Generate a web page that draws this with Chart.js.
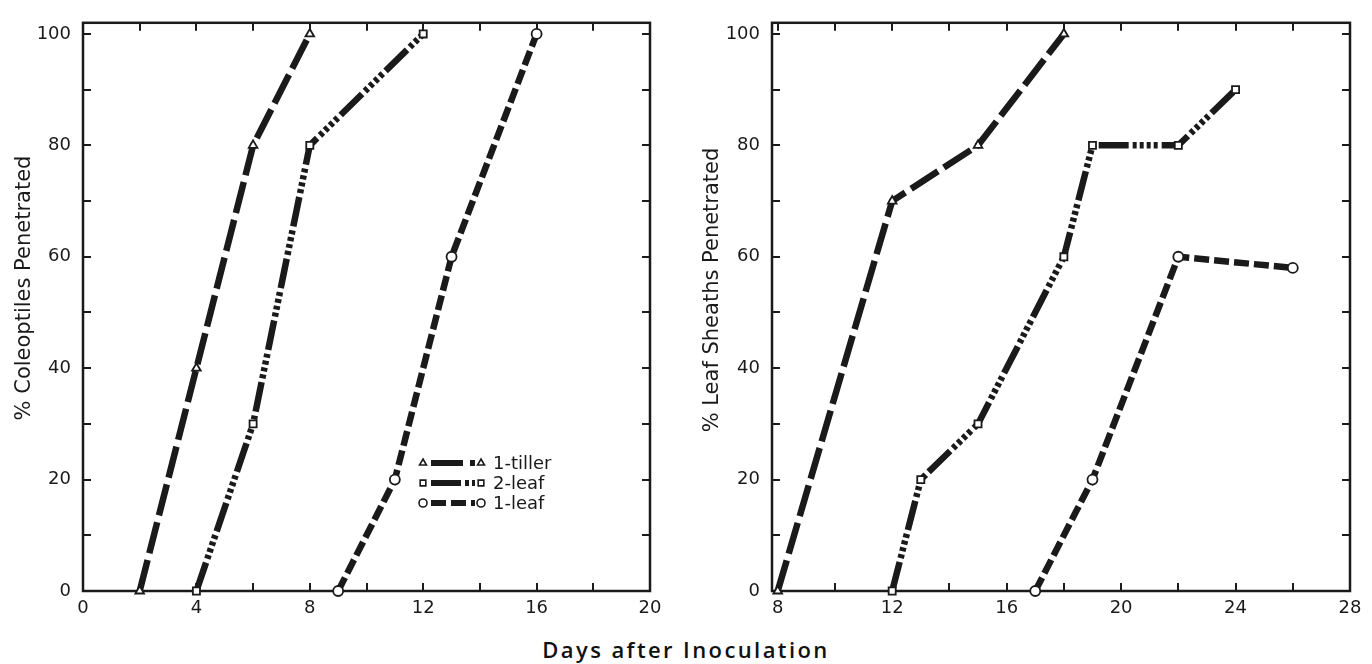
<!DOCTYPE html>
<html>
<head>
<meta charset="utf-8">
<script src="https://cdn.jsdelivr.net/npm/chart.js@4.4.1/dist/chart.umd.min.js"></script>
<style>
html,body{margin:0;padding:0;background:#fff;}
body{width:1372px;height:664px;position:relative;overflow:hidden;}
#c1{position:absolute;left:0;top:0;}
#c2{position:absolute;left:690px;top:0;}
#xt{position:absolute;left:0;width:1372px;top:634px;text-align:center;font-family:"Open Sans","DejaVu Sans",sans-serif;font-weight:600;font-size:22px;color:#111;letter-spacing:2.4px;}
</style>
</head>
<body>
<canvas id="c1" width="690" height="630"></canvas>
<canvas id="c2" width="682" height="630"></canvas>
<div id="xt">Days after Inoculation</div>
<script>
// ---------- data ----------
const seriesNames = ["1-tiller", "2-leaf", "1-leaf"];

// Left panel: % coleoptiles penetrated
const colTillerX = [2, 4, 6, 8];
const colTillerY = [0, 40, 80, 100];
const col2LeafX = [4, 6, 8, 12];
const col2LeafY = [0, 30, 80, 100];
const col1LeafX = [9, 11, 13, 16];
const col1LeafY = [0, 20, 60, 100];

// Right panel: % leaf sheaths penetrated
const shTillerX = [8, 12, 15, 18];
const shTillerY = [0, 70, 80, 100];
const sh2LeafX = [12, 13, 15, 18, 19, 22, 24];
const sh2LeafY = [0, 20, 30, 60, 80, 80, 90];
const sh1LeafX = [17, 19, 22, 26];
const sh1LeafY = [0, 20, 60, 58];

// tick marks / labels
const leftXTicks = [0, 2, 4, 6, 8, 10, 12, 14, 16, 18, 20];
const rightXTicks = [8, 10, 12, 14, 16, 18, 20, 22, 24, 26, 28];
const yTicks = [0, 10, 20, 30, 40, 50, 60, 70, 80, 90, 100];
const xLabelStep = 4;
const yLabelStep = 20;

const leftTitle = "% Coleoptiles Penetrated";
const rightTitle = "% Leaf Sheaths Penetrated";

// ---------- styles ----------
const INK = "#1a1a1a";
const FONT = "'DejaVu Sans', sans-serif";
const styles = [
  { pointStyle: "triangle", dash: [32, 7] },
  { pointStyle: "rect", dash: [30, 4, 4, 3, 4, 3, 4, 3, 4, 4] },
  { pointStyle: "circle", dash: [15, 5] }
];

function zip(xs, ys) { return xs.map((x, i) => ({ x: x, y: ys[i] })); }

function makeDatasets(pairs) {
  return pairs.map((p, i) => ({
    label: seriesNames[i],
    data: zip(p[0], p[1]),
    borderColor: INK,
    borderWidth: 6.5,
    borderDash: styles[i].dash,
    borderCapStyle: "butt",
    borderJoinStyle: "miter",
    pointStyle: styles[i].pointStyle,
    pointRadius: 5,
    pointBorderWidth: 1.8,
    pointBackgroundColor: "#fff",
    pointBorderColor: INK,
    tension: 0,
    fill: false,
    clip: false
  }));
}

// frame with inward ticks on all four sides
const framePlugin = {
  id: "frame",
  beforeDatasetsDraw(chart) {
    const { ctx, chartArea: a } = chart;
    const xs = chart.scales.x, ys = chart.scales.y;
    ctx.save();
    ctx.strokeStyle = INK;
    ctx.lineWidth = 2.5;
    ctx.strokeRect(a.left, a.top, a.right - a.left, a.bottom - a.top);
    ctx.lineWidth = 2;
    const L = 8;
    ctx.beginPath();
    xs.ticks.forEach(t => {
      if (t.value <= xs.min || t.value >= xs.max) return;
      const px = Math.round(xs.getPixelForValue(t.value));
      ctx.moveTo(px, a.bottom); ctx.lineTo(px, a.bottom - L);
      ctx.moveTo(px, a.top); ctx.lineTo(px, a.top + L);
    });
    ys.ticks.forEach(t => {
      if (t.value <= ys.min) return;
      const py = Math.round(ys.getPixelForValue(t.value));
      ctx.moveTo(a.left, py); ctx.lineTo(a.left + L, py);
      ctx.moveTo(a.right, py); ctx.lineTo(a.right - L, py);
    });
    ctx.stroke();
    ctx.restore();
  }
};

// vertical axis title placed at a fixed spot
const yTitlePlugin = {
  id: "yTitle",
  afterDraw(chart, args, opts) {
    const { ctx } = chart;
    ctx.save();
    ctx.translate(opts.x, opts.y);
    ctx.rotate(-Math.PI / 2);
    ctx.fillStyle = INK;
    ctx.font = "21px " + FONT;
    ctx.textAlign = "center";
    ctx.textBaseline = "middle";
    ctx.fillText(opts.text, 0, 0);
    ctx.restore();
  }
};

// custom legend drawn inside the left panel
const legendPlugin = {
  id: "seriesLegend",
  afterDatasetsDraw(chart, args, opts) {
    if (!opts || !opts.show) return;
    const { ctx } = chart;
    ctx.save();
    chart.data.datasets.forEach((ds, i) => {
      const y = opts.y + i * opts.rowGap;
      const x0 = opts.x;
      ctx.strokeStyle = INK;
      ctx.lineWidth = 6;
      ctx.lineCap = "butt";
      ctx.setLineDash(ds.borderDash);
      ctx.beginPath();
      ctx.moveTo(x0 + 8, y);
      ctx.lineTo(x0 + 52, y);
      ctx.stroke();
      ctx.setLineDash([]);
      ctx.fillStyle = "#fff";
      ctx.strokeStyle = INK;
      ctx.lineWidth = 1.6;
      const po = { pointStyle: ds.pointStyle, radius: 4, borderWidth: 1.6, rotation: 0 };
      Chart.helpers.drawPoint(ctx, po, x0, y);
      Chart.helpers.drawPoint(ctx, po, x0 + 58, y);
      ctx.fillStyle = INK;
      ctx.font = "18px " + FONT;
      ctx.textBaseline = "middle";
      ctx.textAlign = "left";
      ctx.fillText(ds.label, x0 + 70, y + 1);
    });
    ctx.restore();
  }
};

function makeOptions(cfg) {
  return {
    responsive: false,
    animation: false,
    layout: { padding: { top: 14, right: cfg.padRight, left: 0, bottom: 0 } },
    plugins: {
      legend: { display: false },
      tooltip: { enabled: false },
      seriesLegend: cfg.legend,
      yTitle: cfg.yTitle
    },
    scales: {
      x: {
        type: "linear",
        min: cfg.xMin,
        max: cfg.xMax,
        afterBuildTicks: s => { s.ticks = cfg.xTicks.map(v => ({ value: v })); },
        afterFit: s => { s.height = 39; },
        grid: { display: false, drawTicks: false },
        border: { display: false },
        ticks: {
          autoSkip: false, maxRotation: 0, padding: 7,
          color: INK, font: { family: FONT, size: 18 },
          callback: v => (v % xLabelStep === 0 ? String(v) : "")
        }
      },
      y: {
        type: "linear",
        min: 0,
        max: 102,
        afterBuildTicks: s => { s.ticks = yTicks.map(v => ({ value: v })); },
        afterFit: s => { s.width = cfg.yWidth; },
        grid: { display: false, drawTicks: false },
        border: { display: false },
        ticks: {
          autoSkip: false, padding: 12,
          color: INK, font: { family: FONT, size: 18 },
          callback: v => (v % yLabelStep === 0 ? String(v) : "")
        },
        title: { display: false }
      }
    }
  };
}

new Chart(document.getElementById("c1"), {
  type: "line",
  data: { datasets: makeDatasets([[colTillerX, colTillerY], [col2LeafX, col2LeafY], [col1LeafX, col1LeafY]]) },
  options: makeOptions({
    xMin: 0, xMax: 20, xTicks: leftXTicks, yWidth: 83, padRight: 40,
    yTitle: { text: leftTitle, x: 25, y: 288 },
    legend: { show: true, x: 423, y: 463, rowGap: 20 }
  }),
  plugins: [framePlugin, legendPlugin, yTitlePlugin]
});

new Chart(document.getElementById("c2"), {
  type: "line",
  data: { datasets: makeDatasets([[shTillerX, shTillerY], [sh2LeafX, sh2LeafY], [sh1LeafX, sh1LeafY]]) },
  options: makeOptions({
    xMin: 7.8, xMax: 28, xTicks: rightXTicks, yWidth: 82, padRight: 22,
    yTitle: { text: rightTitle, x: 23, y: 290 },
    legend: { show: false }
  }),
  plugins: [framePlugin, legendPlugin, yTitlePlugin]
});
</script>
</body>
</html>
